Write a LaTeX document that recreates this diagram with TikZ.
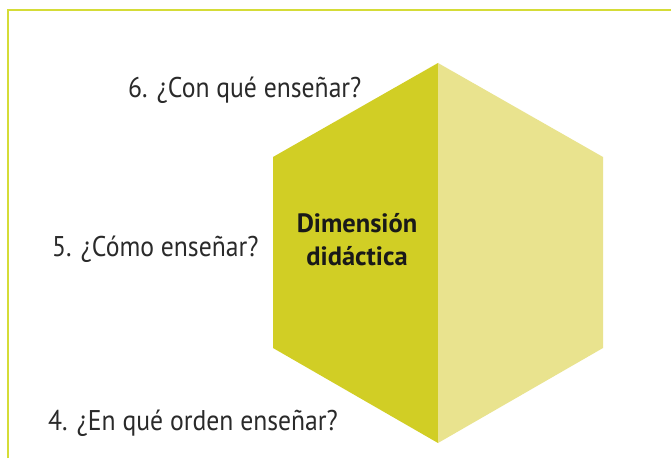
\documentclass[tikz,border=0pt]{standalone}
\usepackage{fontspec}
\setmainfont{PT Sans}
\newfontfamily\qfont{PT Sans}[FakeStretch=0.9]
\newfontfamily\bfontx{PT Sans Bold}
\definecolor{darkface}{HTML}{D1CE25}
\definecolor{lightface}{HTML}{E9E38E}
\definecolor{frameline}{HTML}{D5DC37}
\definecolor{txt}{HTML}{2A2A2A}
\begin{document}
\begin{tikzpicture}[x=1pt,y=1pt,
  question/.style={anchor=base west,inner sep=0pt,font=\qfont\fontsize{28.5}{30}\selectfont,text=txt},
  title/.style={align=center,inner sep=0pt,font=\bfontx\fontsize{26.5}{33}\selectfont,text=black!90}]
\useasboundingbox (0,0) rectangle (671,458);
\fill[white] (0,0) rectangle (671,458);
\draw[frameline,line width=1.6pt] (8,0) -- (8,448) -- (671,448);
% hexagon corners
\coordinate (top) at (438,395);
\coordinate (ul) at (273,301);
\coordinate (ll) at (273,110);
\coordinate (bot) at (438,15);
\coordinate (lr) at (603,110);
\coordinate (ur) at (603,301);
\fill[darkface] (top) -- (ul) -- (ll) -- (bot) -- cycle;
\fill[lightface] (top) -- (ur) -- (lr) -- (bot) -- cycle;
\node[title] (dim) at (357,218) {Dimensión\\didáctica};
\node[question] (q6) at (128,360) {6. ¿Con qué enseñar?};
\node[question] (q5) at (52,201) {5. ¿Cómo enseñar?};
\node[question] (q4) at (48,28) {4. ¿En qué orden enseñar?};
\end{tikzpicture}
\end{document}
